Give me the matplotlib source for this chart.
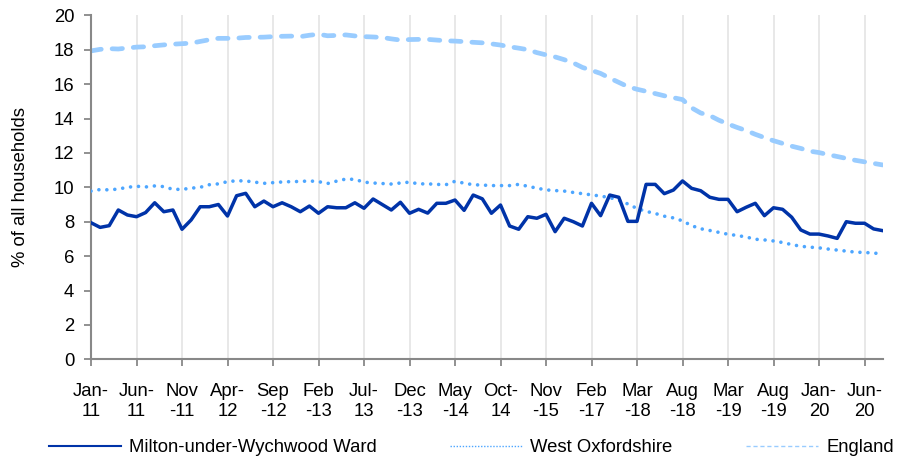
import numpy as np
import matplotlib
matplotlib.use("Agg")
import matplotlib.pyplot as plt
from matplotlib.lines import Line2D

plt.rcParams['font.family'] = ['Liberation Sans', 'DejaVu Sans']
FS = 13.3

tick_labels = ["Jan-\n11", "Jun-\n11", "Nov\n-11", "Apr-\n12", "Sep\n-12", "Feb\n-13",
               "Jul-\n13", "Dec\n-13", "May\n-14", "Oct-\n14", "Nov\n-15", "Feb\n-17",
               "Mar\n-18", "Aug\n-18", "Mar\n-19", "Aug\n-19", "Jan-\n20", "Jun-\n20"]

ward = [7.94, 7.67, 7.77, 8.68, 8.39, 8.29, 8.53, 9.10, 8.58, 8.68,
        7.56, 8.10, 8.87, 8.87, 9.00, 8.33, 9.51, 9.65, 8.87, 9.20,
        8.87, 9.10, 8.87, 8.58, 8.91, 8.49, 8.87, 8.81, 8.81, 9.10,
        8.78, 9.32, 9.00, 8.68, 9.13, 8.49, 8.72, 8.50, 9.07, 9.07,
        9.26, 8.66, 9.55, 9.33, 8.49, 8.97, 7.75, 7.56, 8.29, 8.20,
        8.43, 7.42, 8.20, 8.00, 7.75, 9.07, 8.35, 9.55, 9.42, 8.02,
        8.02, 10.17, 10.17, 9.63, 9.84, 10.37, 9.94, 9.80, 9.42, 9.30,
        9.30, 8.58, 8.84, 9.07, 8.35, 8.81, 8.72, 8.26, 7.52, 7.28,
        7.28, 7.17, 7.03, 8.00, 7.91, 7.91, 7.58, 7.48]

west_oxon = [9.78, 9.87, 9.85, 9.90, 10.00, 10.06, 10.02, 10.08, 10.04, 9.88,
             9.88, 9.95, 10.00, 10.15, 10.20, 10.33, 10.38, 10.37, 10.30, 10.23,
             10.27, 10.31, 10.33, 10.34, 10.37, 10.33, 10.22, 10.36, 10.48, 10.46,
             10.30, 10.25, 10.22, 10.19, 10.25, 10.30, 10.20, 10.20, 10.17, 10.15,
             10.35, 10.24, 10.15, 10.13, 10.10, 10.10, 10.10, 10.17, 10.06, 9.95,
             9.85, 9.81, 9.78, 9.70, 9.63, 9.56, 9.49, 9.40, 9.25, 9.03,
             8.77, 8.60, 8.48, 8.32, 8.22, 8.05, 7.77, 7.59, 7.49, 7.38,
             7.27, 7.20, 7.11, 6.98, 6.94, 6.88, 6.79, 6.67, 6.57, 6.52,
             6.48, 6.41, 6.35, 6.29, 6.23, 6.21, 6.18, 6.12]

england = [17.93, 18.02, 18.06, 18.04, 18.10, 18.15, 18.17, 18.23, 18.28, 18.32,
           18.35, 18.38, 18.48, 18.58, 18.66, 18.66, 18.67, 18.71, 18.72, 18.73,
           18.76, 18.78, 18.79, 18.76, 18.84, 18.90, 18.81, 18.83, 18.86, 18.80,
           18.76, 18.74, 18.71, 18.63, 18.56, 18.59, 18.60, 18.60, 18.56, 18.52,
           18.50, 18.47, 18.43, 18.40, 18.34, 18.27, 18.17, 18.09, 18.00, 17.83,
           17.70, 17.58, 17.42, 17.23, 16.97, 16.80, 16.62, 16.35, 16.10, 15.85,
           15.70, 15.58, 15.45, 15.32, 15.21, 15.10, 14.62, 14.32, 14.17, 13.90,
           13.68, 13.48, 13.30, 13.08, 12.89, 12.71, 12.55, 12.39, 12.26, 12.10,
           12.02, 11.90, 11.79, 11.68, 11.57, 11.48, 11.39, 11.30]

series_names = ["Milton-under-Wychwood Ward", "West Oxfordshire", "England"]
c_ward, c_wo, c_eng = "#0033a8", "#4da6ff", "#99ccff"

fig = plt.figure(figsize=(8.97, 4.58), dpi=100)
ax = fig.add_axes([91/897, 1-359.3/458, (882.7-91)/897, (359.3-15.3)/458])

x = np.arange(len(ward))
ax.plot(x, england, color=c_eng, lw=3.4, linestyle=(0, (2.2, 2.3)),
        dash_capstyle='round', zorder=2)
ax.plot(x, west_oxon, color=c_wo, lw=2.6, linestyle=(0, (0.01, 2.2)),
        dash_capstyle='round', zorder=3)
ax.plot(x, ward, color=c_ward, lw=2.5, zorder=4)

ax.set_xlim(0, len(ward) - 1)
ax.set_ylim(0, 20)
ax.set_yticks(np.arange(0, 21, 2))
ax.set_xticks(np.arange(0, len(ward), 5))
ax.set_xticklabels(tick_labels, fontsize=FS)
for t in ax.get_xticklabels():
    t.set_linespacing(1.25)
ax.tick_params(axis='y', labelsize=FS, length=5, color='#888888', width=1.3, pad=7)
ax.tick_params(axis='x', length=5, color='#888888', width=1.3, pad=12)
ax.xaxis.grid(True, color='#e6e6e6', lw=1.3)
ax.set_axisbelow(True)
for s in ['top', 'right']:
    ax.spines[s].set_visible(False)
for s in ['left', 'bottom']:
    ax.spines[s].set_color('#888888')
    ax.spines[s].set_linewidth(1.5)
ax.set_ylabel("% of all households", fontsize=FS, labelpad=18)

handles = [Line2D([], [], color=c_ward, lw=1.5),
           Line2D([], [], color=c_wo, lw=1.0, linestyle=(0, (1, 1.2))),
           Line2D([], [], color=c_eng, lw=1.0, linestyle=(0, (3, 2)))]
fig.legend(handles, series_names, loc='lower left', bbox_to_anchor=(0.046, -0.012, 0.959, 0.06),
           mode='expand', ncol=3, frameon=False, handlelength=3.9, fontsize=FS,
           borderaxespad=0, handletextpad=0.45)

fig.savefig("out.png", dpi=100)
